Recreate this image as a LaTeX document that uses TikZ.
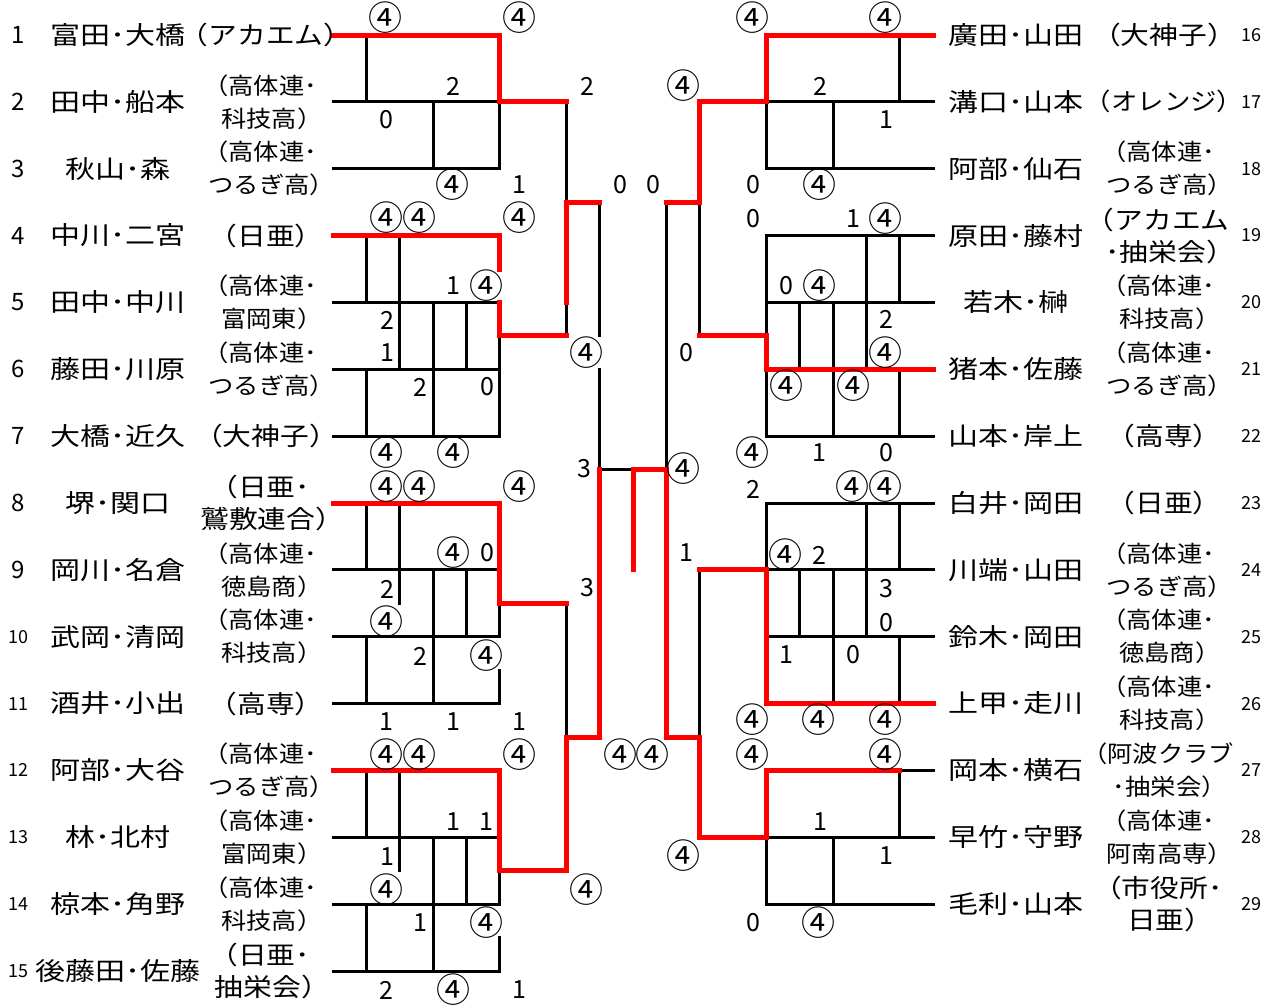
\documentclass[tikz,border=0pt]{standalone}
\usepackage{fontspec}
\setmainfont{Noto Sans CJK JP}
\newfontfamily\namefont[FakeStretch=1.2]{Noto Sans CJK JP}
\newfontfamily\affwide[FakeStretch=1.15]{Noto Sans CJK JP}
\newfontfamily\affnarrow[FakeStretch=1.1]{Noto Sans CJK JP}
\newcommand\mycirc{{\fontsize{34}{34}\selectfont ④}}
\newcommand\lp{\kern-.5em（}
\newcommand\rp{）\kern-.5em}
\begin{document}
\begin{tikzpicture}[x=1pt,y=-1pt,
  bl/.style={line width=3pt,black,line cap=rect},
  rd/.style={line width=5pt,red,line cap=rect,line join=miter},
  gridsc/.style={shift={(333,35)},x=33.333pt,y=-33.43pt},
  sc/.style={inner sep=0pt,font=\fontsize{25}{25}\selectfont},
  nm/.style={inner sep=0pt,font=\namefont\fontsize{25}{25}\selectfont},
  afl/.style={inner sep=0pt,font=\affwide\fontsize{25}{25}\selectfont},
  afm/.style={inner sep=0pt,font=\affnarrow\fontsize{24}{24}\selectfont},
  afs/.style={inner sep=0pt,align=center,font=\affnarrow\fontsize{23}{33}\selectfont},
  afl2/.style={inner sep=0pt,align=center,font=\affwide\fontsize{25}{32}\selectfont},
  numa/.style={inner sep=0pt,font=\fontsize{24}{24}\selectfont},
  numb/.style={inner sep=0pt,font=\fontsize{18}{18}\selectfont}]
\useasboundingbox (0,0) rectangle (1273,1005);
\fill[white] (0,0) rectangle (1273,1005);

\begin{scope}[gridsc]
% horizontal lines
\foreach \j in {0,2,...,28} \draw[bl] (0,\j)--(5,\j);
\foreach \j in {0,2,...,26} \draw[bl] (13,\j)--(18,\j);
% left groups
\draw[bl] (1,0)--(1,2) (3,2)--(3,4) (5,2)--(5,4);
\draw[bl] (1,6)--(1,8) (1,10)--(1,12) (2,6)--(2,10) (3,8)--(3,12) (4,8)--(4,10) (5,9)--(5,12);
\draw[bl] (1,14)--(1,16) (1,18)--(1,20) (2,14)--(2,17) (3,16)--(3,20) (4,16)--(4,18) (5,17)--(5,18) (5,19)--(5,20);
\draw[bl] (1,22)--(1,24) (1,26)--(1,28) (2,22)--(2,25) (3,24)--(3,28) (4,24)--(4,26) (5,25)--(5,26) (5,27)--(5,28);
% centre
\draw[bl] (7,2)--(7,9) (8,5)--(8,9) (8,10)--(8,13)--(9,13) (7,17)--(7,21);
\draw[bl] (10,5)--(10,13) (11,5)--(11,9) (11,16)--(11,21);
% right groups
\draw[bl] (17,0)--(17,2) (15,2)--(15,4) (13,2)--(13,4);
\draw[bl] (17,6)--(17,8) (17,10)--(17,12) (16,6)--(16,10) (15,8)--(15,12) (14,8)--(14,10) (13,6)--(13,9) (13,10)--(13,12);
\draw[bl] (17,14)--(17,16) (17,18)--(17,20) (16,14)--(16,18) (15,16)--(15,20) (14,16)--(14,18) (13,14)--(13,16);
\draw[bl] (17,22)--(17,24) (15,24)--(15,26) (13,24)--(13,26);
% red winner paths
\draw[rd] (0,0)--(5,0)--(5,2)--(7,2);
\draw[rd] (0,6)--(5,6)--(5,7);
\draw[rd] (5,8)--(5,9)--(7,9);
\draw[rd] (7,8)--(7,5)--(8,5);
\draw[rd] (0,14)--(5,14)--(5,17)--(7,17);
\draw[rd] (0,22)--(5,22)--(5,25)--(7,25)--(7,21)--(8,21)--(8,13);
\draw[rd] (9,16)--(9,13)--(10,13)--(10,21)--(11,21)--(11,24)--(13,24)--(13,22)--(17,22);
\draw[rd] (18,0)--(13,0)--(13,2)--(11,2)--(11,5)--(10,5);
\draw[rd] (18,10)--(13,10)--(13,9)--(11,9);
\draw[rd] (18,20)--(13,20)--(13,16)--(11,16);
\end{scope}

% scores
\foreach \t/\x/\y [count=\k] in {
 \mycirc/385/18, \mycirc/519/18, 2/453/86, 0/386/120, \mycirc/452/185, 1/519/185,
 2/587/86, \mycirc/586/353, 0/620/185, 0/653/185, \mycirc/683/86, 3/584/469, \mycirc/683/469, 0/686/353, 3/587/588, 1/686/553, \mycirc/620/755, \mycirc/652/755, \mycirc/586/890, \mycirc/683/856,
 \mycirc/752/18, \mycirc/885/18, 2/820/86, 1/886/120, 0/753/185, \mycirc/819/185,
 \mycirc/386/218, \mycirc/419/218, \mycirc/519/218, 1/453/286, \mycirc/486/286, 2/387/320, 1/387/353, 2/420/387, 0/487/387, \mycirc/386/453, \mycirc/453/453,
 0/753/219, 1/853/219, \mycirc/885/219, 0/786/286, \mycirc/819/286, 2/886/319, \mycirc/885/353, \mycirc/786/386, \mycirc/853/386, \mycirc/752/453, 1/819/453, 0/886/453,
 \mycirc/386/487, \mycirc/419/487, \mycirc/519/487, \mycirc/453/553, 0/487/553, 2/387/589, \mycirc/386/622, 2/420/656, \mycirc/486/656, 1/386/722, 1/453/722, 1/519/722,
 2/753/489, \mycirc/852/487, \mycirc/885/487, \mycirc/785/555, 2/819/555, 3/886/589, 0/886/623, 1/786/655, 0/853/655, \mycirc/752/720, \mycirc/818/720, \mycirc/885/720,
 \mycirc/386/755, \mycirc/419/755, \mycirc/519/755, 1/453/822, 1/486/822, 1/387/857, \mycirc/386/890, 1/420/923, \mycirc/486/923, 2/386/990, \mycirc/453/990, 1/519/990,
 \mycirc/752/755, \mycirc/885/755, 1/820/822, 1/886/856, 0/753/923, \mycirc/818/923}
 \node[sc] (s\k) at (\x,\y) {\t};

% left names
\foreach \n [count=\k] in {富田･大橋,田中･船本,秋山･森,中川･二宮,田中･中川,藤田･川原,大橋･近久,堺･関口,岡川･名倉,武岡･清岡,酒井･小出,阿部･大谷,林･北村,椋本･角野,後藤田･佐藤}
 \node[nm] (ln\k) at (118,{35+66.857*(\k-1)}) {\n};
% right names
\foreach \n [count=\k] in {廣田･山田,溝口･山本,阿部･仙石,原田･藤村,若木･榊,猪本･佐藤,山本･岸上,白井･岡田,川端･山田,鈴木･岡田,上甲･走川,岡本･横石,早竹･守野,毛利･山本}
 \node[nm] (rn\k) at (1016,{35+66.857*(\k-1)}) {\n};

% left affiliations
\foreach \a/\s [count=\k] in {\lp アカエム\rp/afl,\lp 高体連･\\科技高\rp/afs,\lp 高体連･\\つるぎ高\rp/afs,\lp 日亜\rp/afl,\lp 高体連･\\富岡東\rp/afs,\lp 高体連･\\つるぎ高\rp/afs,\lp 大神子\rp/afl,\lp 日亜･\\鷲敷連合\rp/afl2,\lp 高体連･\\徳島商\rp/afs,\lp 高体連･\\科技高\rp/afs,\lp 高専\rp/afl,\lp 高体連･\\つるぎ高\rp/afs,\lp 高体連･\\富岡東\rp/afs,\lp 高体連･\\科技高\rp/afs,\lp 日亜･\\抽栄会\rp/afl2}
 \node[style=\s] (la\k) at (266,{35+66.857*(\k-1)}) {\a};
% right affiliations
\foreach \a/\s [count=\k] in {\lp 大神子\rp/afl,\lp オレンジ\rp/afm,\lp 高体連･\\つるぎ高\rp/afs,\lp アカエム\\･抽栄会\rp/afl2,\lp 高体連･\\科技高\rp/afs,\lp 高体連･\\つるぎ高\rp/afs,\lp 高専\rp/afl,\lp 日亜\rp/afl,\lp 高体連･\\つるぎ高\rp/afs,\lp 高体連･\\徳島商\rp/afs,\lp 高体連･\\科技高\rp/afs,\lp 阿波クラブ\\･抽栄会\rp/afs,\lp 高体連･\\阿南高専\rp/afs,\lp 市役所･\\日亜\rp/afl2}
 \node[style=\s] (ra\k) at (1164,{35+66.857*(\k-1)}) {\a};

% numbers
\foreach \k in {1,...,9} \node[numa] (lnum\k) at (18,{35+66.857*(\k-1)}) {\k};
\foreach \k in {10,...,15} \node[numb] (lnum\k) at (18,{35+66.857*(\k-1)}) {\k};
\foreach \k in {16,...,29} \node[numb] (rnum\k) at (1251,{35+66.857*(\k-16)}) {\k};
\end{tikzpicture}
\end{document}
